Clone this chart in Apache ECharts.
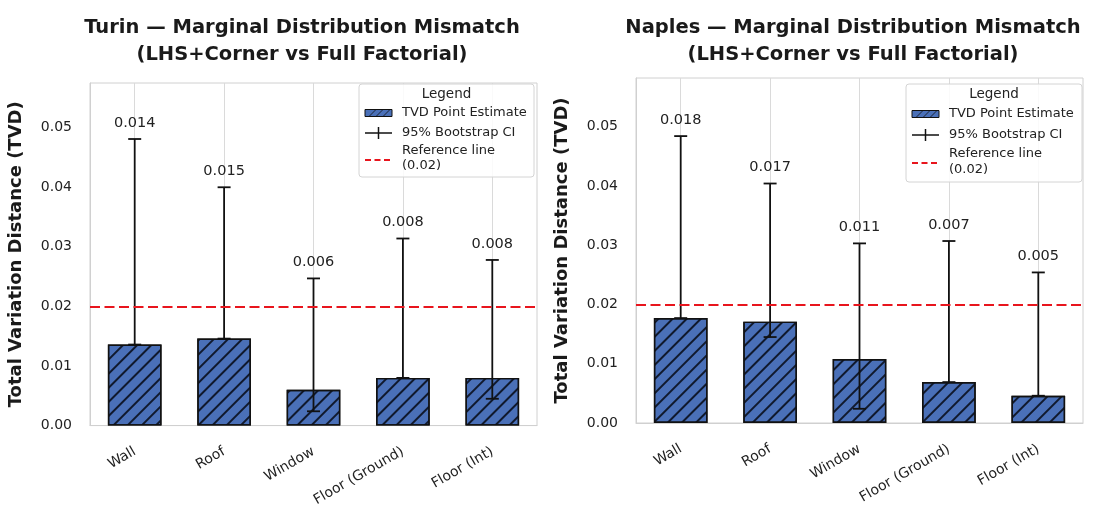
<!DOCTYPE html>
<html>
<head>
<meta charset="utf-8">
<script src="https://cdn.jsdelivr.net/npm/echarts@6/dist/echarts.min.js"></script>
<style>
  html, body { margin: 0; padding: 0; background: #ffffff; }
  #chart { width: 1099px; height: 509px; }
</style>
</head>
<body>
<div id="chart"></div>
<script>
// Building components compared in each city
const categories = ['Wall', 'Roof', 'Window', 'Floor (Ground)', 'Floor (Int)'];

// Turin: TVD point estimates and 95% bootstrap interval bounds
const turinTvd    = [0.0136, 0.0146, 0.0060, 0.0080, 0.0080];
const turinCiLow  = [0.0136, 0.0146, 0.0024, 0.0080, 0.0045];
const turinCiHigh = [0.0481, 0.0400, 0.0247, 0.0314, 0.0278];

// Naples: TVD point estimates and 95% bootstrap interval bounds
const naplesTvd    = [0.0177, 0.0171, 0.0108, 0.0069, 0.0046];
const naplesCiLow  = [0.0177, 0.0145, 0.0024, 0.0069, 0.0046];
const naplesCiHigh = [0.0484, 0.0404, 0.0303, 0.0307, 0.0254];

// Dashed threshold drawn across both panels
const referenceLevel = 0.02;

// Y tick spacing and legend entries
const yTickStep = 0.01;
const legendTitle = 'Legend';
const legendLabels = ['TVD Point Estimate', '95% Bootstrap CI', 'Reference line\n(0.02)'];

const FONT = '"DejaVu Sans", "Liberation Sans", sans-serif';
const BAR_BLUE = '#4a70b8';
const RED = '#e8151d';

const panels = [
  {
    title: 'Turin — Marginal Distribution Mismatch\n(LHS+Corner vs Full Factorial)',
    titleX: 297,
    grid: { left: 90, top: 83, width: 447, height: 344 },
    yMax: 0.0575,
    tvd: turinTvd, lo: turinCiLow, hi: turinCiHigh,
    legendBox: { x: 359, y: 84, w: 175, h: 93, rows: [10, 29, 49, 67, 82, 76] }
  },
  {
    title: 'Naples — Marginal Distribution Mismatch\n(LHS+Corner vs Full Factorial)',
    titleX: 848,
    grid: { left: 636, top: 78, width: 447, height: 345 },
    yMax: 0.0582,
    tvd: naplesTvd, lo: naplesCiLow, hi: naplesCiHigh,
    legendBox: { x: 906, y: 84, w: 176, h: 98, rows: [10, 30, 51, 70, 86, 79] }
  }
];

function fmt3(v) {
  return (Math.round(v * 1000) / 1000).toFixed(3);
}

function errorBarRenderer(params, api) {
  const idx = api.value(0);
  const pHi = api.coord([idx, api.value(2)]);
  const pLo = api.coord([idx, api.value(1)]);
  const x = pHi[0];
  const cap = 6.5;
  const stroke = { stroke: '#111111', lineWidth: 1.8 };
  return {
    type: 'group',
    children: [
      { type: 'line', shape: { x1: x, y1: pLo[1], x2: x, y2: pHi[1] }, style: stroke },
      { type: 'line', shape: { x1: x - cap, y1: pHi[1], x2: x + cap, y2: pHi[1] }, style: stroke },
      { type: 'line', shape: { x1: x - cap, y1: pLo[1], x2: x + cap, y2: pLo[1] }, style: stroke },
      {
        type: 'text', x: x, y: pHi[1] - 16,
        style: {
          text: fmt3(api.value(3)), font: '14.5px ' + FONT, fill: '#222222',
          align: 'center', verticalAlign: 'middle'
        }
      }
    ]
  };
}

function legendElements(b) {
  const [tY, i1, i2, r1, r2, rl] = b.rows;
  const px = b.x + 6, pw = 27, tx = b.x + 43;
  const els = [
    {
      type: 'rect', shape: { x: b.x, y: b.y, width: b.w, height: b.h, r: 3 },
      style: { fill: 'rgba(255,255,255,0.85)', stroke: '#d4d4d4', lineWidth: 1 }, z: 20
    },
    {
      type: 'text', x: b.x + b.w / 2, y: b.y + tY,
      style: { text: legendTitle, font: '13.5px ' + FONT, fill: '#222', align: 'center', verticalAlign: 'middle' }, z: 21
    },
    {
      type: 'rect', shape: { x: px, y: b.y + i1 - 3.5, width: pw, height: 7 },
      style: { fill: BAR_BLUE, stroke: '#111', lineWidth: 1 }, z: 21
    }
  ];
  [4, 11, 18].forEach(function (a) {
    els.push({
      type: 'line', shape: { x1: px + a, y1: b.y + i1 + 3.5, x2: px + a + 7, y2: b.y + i1 - 3.5 },
      style: { stroke: '#111', lineWidth: 0.8 }, z: 22
    });
  });
  els.push(
    { type: 'line', shape: { x1: px, y1: b.y + i2, x2: px + pw, y2: b.y + i2 }, style: { stroke: '#111', lineWidth: 1.5 }, z: 21 },
    { type: 'line', shape: { x1: px + pw / 2, y1: b.y + i2 - 6, x2: px + pw / 2, y2: b.y + i2 + 6 }, style: { stroke: '#111', lineWidth: 1.5 }, z: 21 },
    { type: 'line', shape: { x1: px, y1: b.y + rl, x2: px + pw, y2: b.y + rl }, style: { stroke: RED, lineWidth: 2, lineDash: [6, 3.5] }, z: 21 }
  );
  const textStyle = { font: '13px ' + FONT, fill: '#222', align: 'left', verticalAlign: 'middle' };
  const refLines = legendLabels[2].split('\n');
  [[legendLabels[0], i1], [legendLabels[1], i2], [refLines[0], r1], [refLines[1], r2]].forEach(function (t) {
    els.push({ type: 'text', x: tx, y: b.y + t[1], style: Object.assign({ text: t[0] }, textStyle), z: 21 });
  });
  return els;
}

const option = {
  backgroundColor: '#ffffff',
  animation: false,
  title: panels.map(function (p) {
    return {
      text: p.title, left: p.titleX, top: 9, textAlign: 'center',
      textStyle: { fontFamily: FONT, fontSize: 19.5, fontWeight: 'bold', color: '#1a1a1a', lineHeight: 27 }
    };
  }),
  grid: panels.map(function (p) {
    return Object.assign({ show: true, borderColor: '#d0d0d0', borderWidth: 1, backgroundColor: 'transparent' }, p.grid);
  }),
  xAxis: panels.map(function (p, k) {
    return {
      type: 'category', gridIndex: k, data: categories,
      axisLine: { lineStyle: { color: '#d0d0d0' } },
      axisTick: { show: false },
      axisLabel: { rotate: 30, margin: 25, fontFamily: FONT, fontSize: 14, color: '#222' },
      splitLine: { show: false }
    };
  }),
  yAxis: panels.map(function (p, k) {
    return {
      type: 'value', gridIndex: k, min: 0, max: p.yMax, interval: yTickStep,
      name: 'Total Variation Distance (TVD)', nameLocation: 'middle', nameGap: 65,
      nameTextStyle: { fontFamily: FONT, fontSize: 18, fontWeight: 'bold', color: '#1a1a1a' },
      axisLine: { show: true, lineStyle: { color: '#d0d0d0' } },
      axisTick: { show: false },
      axisLabel: {
        margin: 18, fontFamily: FONT, fontSize: 14, color: '#222', showMaxLabel: false,
        formatter: function (v) { return v.toFixed(2); }
      },
      splitLine: { show: false }
    };
  }),
  series: [],
  graphic: { elements: [] }
};

panels.forEach(function (p, k) {
  // Vertical guide lines through each category
  option.series.push({
    type: 'line', xAxisIndex: k, yAxisIndex: k, data: [], silent: true,
    markLine: {
      z: 1, silent: true, symbol: 'none', label: { show: false },
      lineStyle: { color: '#dadada', width: 1, type: 'solid' },
      data: categories.map(function (c) { return { xAxis: c }; })
    }
  });
  option.series.push({
    name: legendLabels[0], type: 'bar', xAxisIndex: k, yAxisIndex: k, z: 2,
    barWidth: '60%', data: p.tvd,
    itemStyle: {
      color: BAR_BLUE, borderColor: '#111111', borderWidth: 1.4,
      decal: {
        symbol: 'rect', symbolSize: 1, color: 'rgba(10,15,30,0.9)',
        dashArrayX: [1, 0], dashArrayY: [1.2, 8], rotation: -Math.PI / 4
      }
    },
    markLine: {
      z: 6, silent: true, symbol: 'none', label: { show: false },
      lineStyle: { color: RED, width: 2.2, type: [10, 4.5] },
      data: [{ yAxis: referenceLevel }]
    }
  });
  option.series.push({
    name: legendLabels[1], type: 'custom', xAxisIndex: k, yAxisIndex: k, z: 4, clip: false,
    renderItem: errorBarRenderer,
    encode: { x: 0, y: [1, 2] },
    data: categories.map(function (c, i) { return [i, p.lo[i], p.hi[i], p.tvd[i]]; })
  });
  option.graphic.elements = option.graphic.elements.concat(legendElements(p.legendBox));
});

const chart = echarts.init(document.getElementById('chart'), null, { renderer: 'canvas' });
chart.setOption(option);
</script>
</body>
</html>
